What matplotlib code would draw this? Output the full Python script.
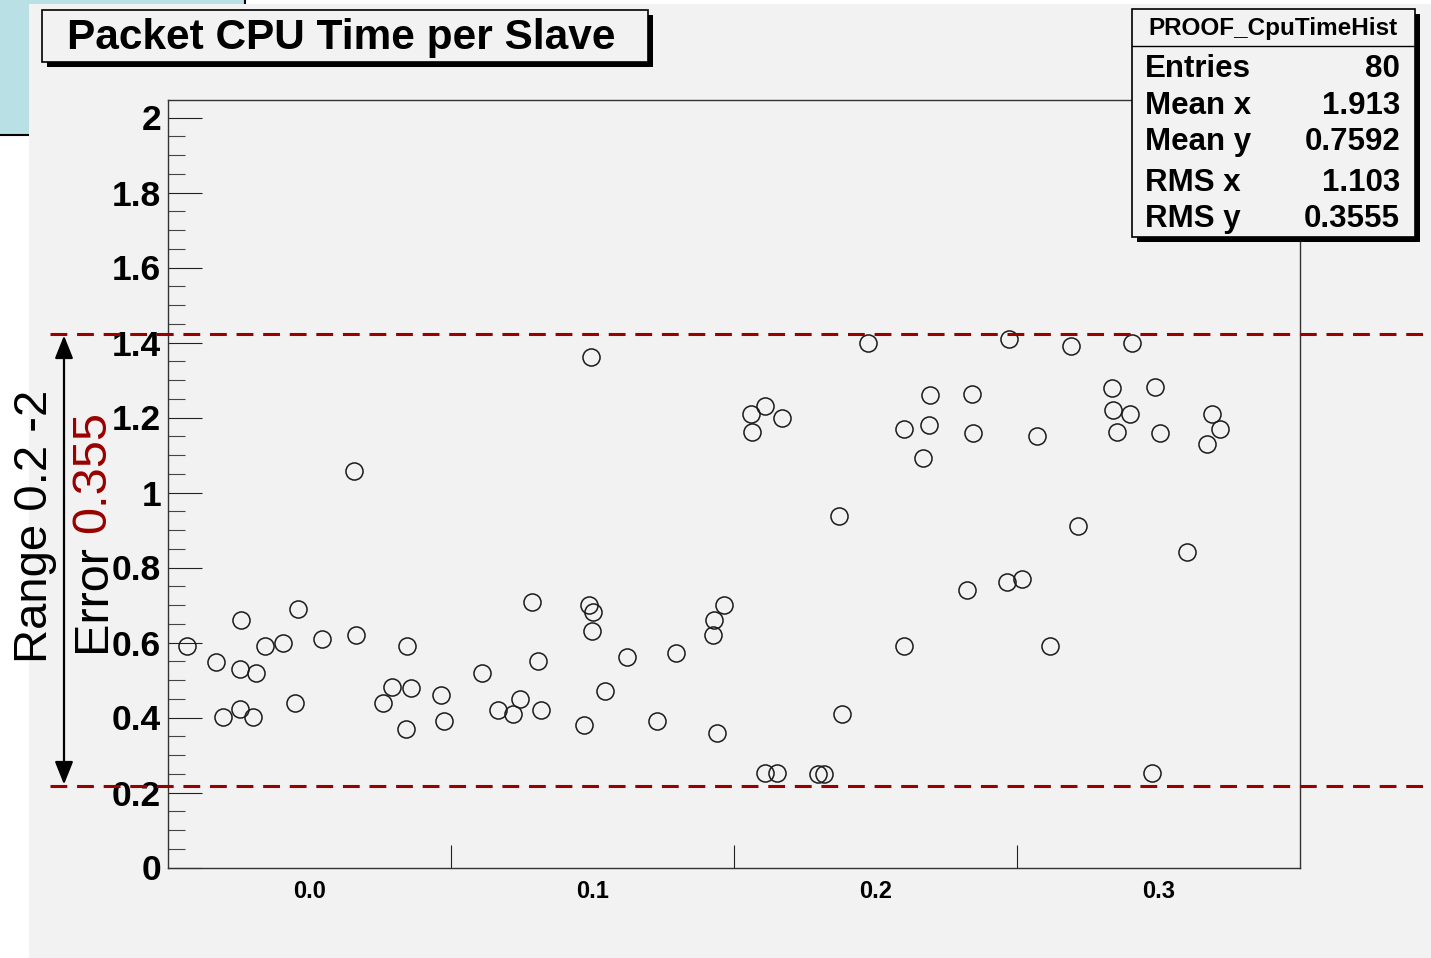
import matplotlib
matplotlib.use("Agg")
import matplotlib.pyplot as plt
from matplotlib.patches import Rectangle

# packet cpu time per slave (x, y)
x_vals = [-0.0434, -0.0331, -0.0243, -0.0247, -0.0190, -0.0307, -0.0244, -0.0200,
          -0.0157, -0.0093, -0.0042, -0.0052, 0.0045, 0.0157, 0.0164, 0.0343,
          0.0292, 0.0357, 0.0258, 0.0342, 0.0465, 0.0476,
          0.0786, 0.0988, 0.1003, 0.0998, 0.1465, 0.1430, 0.1425, 0.1296,
          0.1121, 0.0809, 0.0610, 0.1044, 0.0744, 0.0666, 0.0719, 0.0819,
          0.0970, 0.1228, 0.1440,
          0.0993, 0.1560, 0.1609, 0.1669, 0.1564,
          0.1975, 0.2471, 0.2194, 0.2340, 0.2099, 0.2190, 0.2345, 0.2571,
          0.2168, 0.1872, 0.2324, 0.2464, 0.2519, 0.2102, 0.2615, 0.1880,
          0.1608, 0.1652, 0.1798, 0.1818,
          0.2690, 0.2906, 0.2837, 0.2986, 0.2840, 0.2898, 0.3189, 0.3217,
          0.2853, 0.3006, 0.3170, 0.2717, 0.3100, 0.2978]
y_vals = [0.591, 0.549, 0.660, 0.529, 0.519, 0.401, 0.422, 0.401,
          0.590, 0.599, 0.690, 0.439, 0.609, 1.058, 0.620, 0.591,
          0.481, 0.479, 0.439, 0.369, 0.460, 0.390,
          0.709, 0.700, 0.681, 0.630, 0.699, 0.660, 0.620, 0.571,
          0.561, 0.551, 0.519, 0.470, 0.449, 0.421, 0.410, 0.421,
          0.380, 0.391, 0.358,
          1.361, 1.209, 1.231, 1.199, 1.161,
          1.399, 1.410, 1.260, 1.262, 1.170, 1.180, 1.159, 1.150,
          1.091, 0.938, 0.740, 0.761, 0.769, 0.591, 0.591, 0.409,
          0.251, 0.253, 0.249, 0.249,
          1.390, 1.399, 1.278, 1.281, 1.220, 1.210, 1.210, 1.170,
          1.161, 1.159, 1.129, 0.911, 0.841, 0.251]

range_lo = 0.2165
range_hi = 1.4235

y_ticks = [0, 0.2, 0.4, 0.6, 0.8, 1.0, 1.2, 1.4, 1.6, 1.8, 2.0]
y_labels = ["0", "0.2", "0.4", "0.6", "0.8", "1", "1.2", "1.4", "1.6", "1.8", "2"]
x_label_pos = [0.0, 0.1, 0.2, 0.3]
x_labels = ["0.0", "0.1", "0.2", "0.3"]
x_tick_pos = [0.05, 0.15, 0.25]

stat_names = ["Entries", "Mean x", "Mean y", "RMS x", "RMS y"]
stat_values = ["80", "1.913", "0.7592", "1.103", "0.3555"]

W, H = 1431, 958
FONT = ["Liberation Sans", "DejaVu Sans"]
GRAY = "#f2f2f2"
RED = "#990000"


def fx(px):
    return px / W


def fy(py):
    return 1 - py / H


def box(fig, x0, y0, x1, y1, z):
    # ROOT style box with a black shadow at bottom right
    fig.patches.append(Rectangle((fx(x0 + 5), fy(y1 + 5)), fx(x1 - x0), (y1 - y0) / H,
                                 transform=fig.transFigure, facecolor="black",
                                 edgecolor="none", zorder=z))
    fig.patches.append(Rectangle((fx(x0), fy(y1)), fx(x1 - x0), (y1 - y0) / H,
                                 transform=fig.transFigure, facecolor=GRAY,
                                 edgecolor="black", linewidth=1.2, zorder=z + 0.1))


fig = plt.figure(figsize=(W / 100, H / 100), dpi=100)
fig.patch.set_facecolor("white")

# slide background pieces
fig.patches.append(Rectangle((0, fy(135)), fx(245), 135 / H, transform=fig.transFigure,
                             facecolor="#b9e0e4", edgecolor="none", zorder=-10))
fig.add_artist(plt.Line2D([0, fx(245)], [fy(135), fy(135)], color="black", lw=1.5, zorder=-9))
fig.add_artist(plt.Line2D([fx(245), fx(245)], [1, fy(135)], color="black", lw=1.5, zorder=-9))
fig.patches.append(Rectangle((fx(29), 0), 1 - fx(29), fy(4), transform=fig.transFigure,
                             facecolor=GRAY, edgecolor="none", zorder=-8))

ax = fig.add_axes([fx(168), fy(867.5), fx(1300 - 168), (867.5 - 99.5) / H])
ax.set_facecolor(GRAY)
ax.set_xlim(-0.05, 0.35)
ax.set_ylim(0, 2.048)

ax.plot(x_vals, y_vals, linestyle="none", marker="o", markersize=12.3,
        markerfacecolor="none", markeredgecolor="#1a1a1a", markeredgewidth=1.1, zorder=3)

for sp in ax.spines.values():
    sp.set_color("#333333")
    sp.set_linewidth(1.0)

ax.set_yticks(y_ticks)
ax.set_yticklabels(y_labels, fontsize=25.5, fontweight="bold", family=FONT)
ax.set_yticks([v / 20 for v in range(41) if v % 4 != 0], minor=True)
ax.tick_params(axis="y", which="major", direction="in", length=24.5, width=0.8,
               color="#222222", pad=5)
ax.tick_params(axis="y", which="minor", direction="in", length=12, width=0.8,
               color="#444444")

ax.set_xticks(x_tick_pos)
ax.set_xticklabels([""] * len(x_tick_pos))
ax.set_xticks(x_label_pos, minor=True)
ax.set_xticklabels(x_labels, minor=True, fontsize=17, fontweight="bold", family=FONT)
ax.tick_params(axis="x", which="major", direction="in", length=16.5, width=0.8,
               color="#222222")
ax.tick_params(axis="x", which="minor", length=0, pad=9)

# range lines and arrow
yt = ax.get_yaxis_transform()
x_left = (50 - 168) / (1300 - 168)
x_right = (W - 168) / (1300 - 168)
for yv in (range_lo, range_hi):
    ax.plot([x_left, x_right], [yv, yv], transform=yt, color=RED, lw=2.2,
            dashes=(5.5, 3.2), clip_on=False, zorder=6)
x_arrow = (64 - 168) / (1300 - 168)
ax.annotate("", xy=(x_arrow, range_hi - 0.005), xytext=(x_arrow, range_lo + 0.005),
            xycoords=yt, textcoords=yt,
            arrowprops=dict(arrowstyle="<|-|>,head_length=0.5,head_width=0.2",
                            color="black", lw=1.6,
                            mutation_scale=28, shrinkA=0, shrinkB=0))

fig.text(fx(47), fy(663), "Range 0.2 -2", rotation=90, rotation_mode="anchor",
         ha="left", va="baseline", fontsize=34, family=FONT)
fig.text(fx(105), fy(652), "Error", rotation=90, rotation_mode="anchor",
         ha="left", va="baseline", fontsize=35, family=FONT)
fig.text(fx(105), fy(533), "0.355", rotation=90, rotation_mode="anchor",
         ha="left", va="baseline", fontsize=35, family=FONT, color=RED)

# title box
box(fig, 42, 10, 648, 62, 10)
fig.text(fx(341), fy(38), "Packet CPU Time per Slave", ha="center", va="center",
         fontsize=30.5, fontweight="bold", family=FONT, zorder=12)

# stats box
box(fig, 1132, 9, 1415, 237, 10)
fig.add_artist(plt.Line2D([fx(1132), fx(1415)], [fy(46), fy(46)], color="black",
                          lw=1.0, zorder=11))
fig.text(fx(1273), fy(28), "PROOF_CpuTimeHist", ha="center", va="center",
         fontsize=17.5, fontweight="bold", family=FONT, zorder=12)
row_y = [69, 106, 142, 183, 219]
for name, val, ry in zip(stat_names, stat_values, row_y):
    fig.text(fx(1145), fy(ry), name, ha="left", va="center", fontsize=22.5,
             fontweight="bold", family=FONT, zorder=12)
    fig.text(fx(1400), fy(ry), val, ha="right", va="center", fontsize=22.5,
             fontweight="bold", family=FONT, zorder=12)

fig.savefig("out.png", dpi=100, facecolor=fig.get_facecolor())
